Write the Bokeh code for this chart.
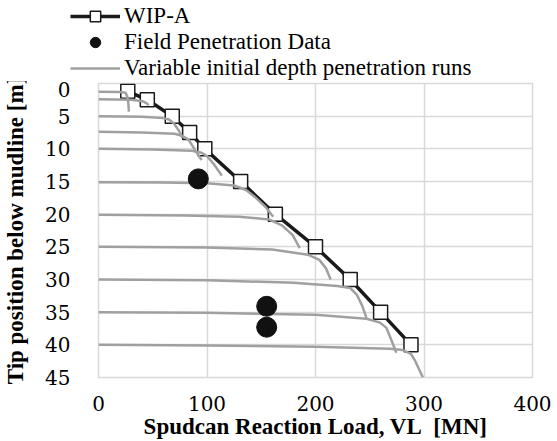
from bokeh.plotting import figure
from bokeh.models import Range1d, FixedTicker, Legend, LegendItem, ColumnDataSource
from bokeh.layouts import column
from bokeh.embed import file_html
from bokeh.resources import INLINE

# WIP-A prediction
wip_x = [27, 45, 68, 84, 98, 131, 163, 200, 232, 260, 288]
wip_y = [1.2, 2.5, 5, 7.5, 10, 15, 20, 25, 30, 35, 40]

# Field penetration data
field_x = [92, 155, 155]
field_y = [14.6, 34.1, 37.3]

# Variable initial depth penetration runs
run1_x = [0, 20, 25, 26.5, 27.5, 28]
run1_y = [1.25, 1.3, 1.4, 2.0, 3.0, 4.3]
run2_x = [0, 30, 40.7, 45, 46]
run2_y = [2.4, 2.5, 2.7, 3.1, 3.35]
run3_x = [0, 40, 60, 65, 69.4, 74, 77.5]
run3_y = [5.0, 5.1, 5.3, 5.5, 6.1, 7.2, 8.3]
run4_x = [0, 40, 70, 77, 83, 89, 95]
run4_y = [7.4, 7.5, 7.7, 8.0, 8.6, 10.2, 11.7]
run5_x = [0, 50, 86, 95, 100, 107, 113.7]
run5_y = [10.0, 10.1, 10.3, 10.6, 11.1, 12.5, 14.1]
run6_x = [0, 60, 100, 125, 136, 145, 154, 161]
run6_y = [15.1, 15.15, 15.25, 15.6, 16.3, 17.5, 18.9, 20.4]
run7_x = [0, 80, 130, 157, 169, 179, 185.5]
run7_y = [20.1, 20.2, 20.4, 20.8, 21.7, 23.2, 25.2]
run8_x = [0, 100, 160, 193, 203.6, 209.7, 214]
run8_y = [25.0, 25.1, 25.4, 26.2, 27.0, 28.3, 30.0]
run9_x = [0, 100, 180, 220, 232, 238, 243, 247]
run9_y = [30.0, 30.1, 30.5, 31.0, 31.3, 32.3, 34.0, 35.9]
run10_x = [0, 100, 200, 247, 259.5, 265.4, 270, 274.5]
run10_y = [35.0, 35.1, 35.4, 36.0, 36.6, 37.4, 39.3, 41.2]
run11_x = [0, 100, 200, 268.5, 280.5, 288, 292, 299]
run11_y = [40.0, 40.1, 40.3, 40.6, 40.8, 41.4, 42.5, 45.0]

runs_x = [run1_x, run2_x, run3_x, run4_x, run5_x, run6_x, run7_x, run8_x, run9_x, run10_x, run11_x]
runs_y = [run1_y, run2_y, run3_y, run4_y, run5_y, run6_y, run7_y, run8_y, run9_y, run10_y, run11_y]

x_ticks = [0, 100, 200, 300, 400]
y_ticks = [0, 5, 10, 15, 20, 25, 30, 35, 40, 45]

labels = ["WIP-A", "Field Penetration Data", "Variable initial depth penetration runs"]

SERIF = "Liberation Serif"
AXIS_FONT = "Liberation Serif, serif"
TICK_FONT = "DejaVu Serif"
BLACK = "#1a1a1a"
GREY = "#a0a0a0"

# ---------- legend strip (legend glyph renderers sit outside its visible range) ----------
lf = figure(width=557, height=81, output_backend="svg", toolbar_location=None,
            x_range=Range1d(-2, -1), y_range=Range1d(-2, -1),
            x_axis_type=None, y_axis_type=None,
            min_border_left=0, min_border_right=0, min_border_top=0, min_border_bottom=0)
lf.frame_align = False
lf.grid.visible = False
lf.outline_line_color = None
lf.background_fill_color = "white"
lf.border_fill_color = "white"

lg_line = lf.line(x=wip_x, y=wip_y, line_color=BLACK, line_width=3.5)
lg_sq = lf.scatter(x=wip_x, y=wip_y, marker="square", size=14, fill_color="white",
                   line_color=BLACK, line_width=1.5)
lg_dot = lf.scatter(x=field_x, y=field_y, marker="circle", size=20, fill_color="#111111",
                    line_color="#111111")
lg_run = lf.line(x=run11_x, y=run11_y, line_color=GREY, line_width=2.5)

legend = Legend(items=[
    LegendItem(label=labels[0], renderers=[lg_line, lg_sq]),
    LegendItem(label=labels[1], renderers=[lg_dot]),
    LegendItem(label=labels[2], renderers=[lg_run]),
], location=(70, 0))
legend.background_fill_alpha = 0
legend.border_line_color = None
legend.label_text_font = SERIF
legend.label_text_font_size = "23px"
legend.label_text_color = "black"
legend.glyph_width = 50
legend.glyph_height = 26
legend.label_standoff = 4
legend.spacing = 0
legend.padding = 0
legend.margin = 0
lf.add_layout(legend, "center")

# ---------- main chart ----------
p = figure(width=557, height=360, output_backend="svg", toolbar_location=None,
           x_range=Range1d(0, 400), y_range=Range1d(45, 0),
           min_border_left=90, min_border_right=25, min_border_top=2, min_border_bottom=63)
p.frame_align = False

p.background_fill_color = "white"
p.border_fill_color = "white"
p.outline_line_color = "#d9d9d9"
p.outline_line_width = 1.5

xax = p.xaxis[0]
yax = p.yaxis[0]
xax.ticker = FixedTicker(ticks=x_ticks)
yax.ticker = FixedTicker(ticks=y_ticks)
for ax in (xax, yax):
    ax.axis_line_color = None
    ax.major_tick_line_color = None
    ax.minor_tick_line_color = None
    ax.major_label_text_font = TICK_FONT
    ax.major_label_text_font_size = "20px"
    ax.major_label_text_color = "black"
    ax.axis_label_text_font = AXIS_FONT
    ax.axis_label_text_font_style = "bold"
    ax.axis_label_text_font_size = "23px"
    ax.axis_label_text_color = "black"

xax.axis_label = "Spudcan Reaction Load, VL\u00a0\u00a0[MN]"
yax.axis_label = "Tip position below mudline [m]"
xax.major_label_standoff = 12
xax.axis_label_standoff = 0
yax.major_label_standoff = 22
yax.axis_label_standoff = 14

p.xgrid.ticker = FixedTicker(ticks=x_ticks)
p.ygrid.ticker = FixedTicker(ticks=y_ticks)
p.grid.grid_line_color = "#d9d9d9"
p.grid.grid_line_width = 1.5

wip_src = ColumnDataSource(dict(x=wip_x, y=wip_y))
p.line("x", "y", source=wip_src, line_color=BLACK, line_width=3.5)
p.scatter("x", "y", source=wip_src, marker="square", size=14,
          fill_color="white", line_color=BLACK, line_width=1.5)

p.multi_line(xs=runs_x, ys=runs_y, line_color=GREY, line_width=2.5)

p.scatter(field_x, field_y, marker="circle", size=20,
          fill_color="#111111", line_color="#111111")

layout = column(lf, p, spacing=0)
open("out.html", "w").write(file_html(layout, INLINE))
